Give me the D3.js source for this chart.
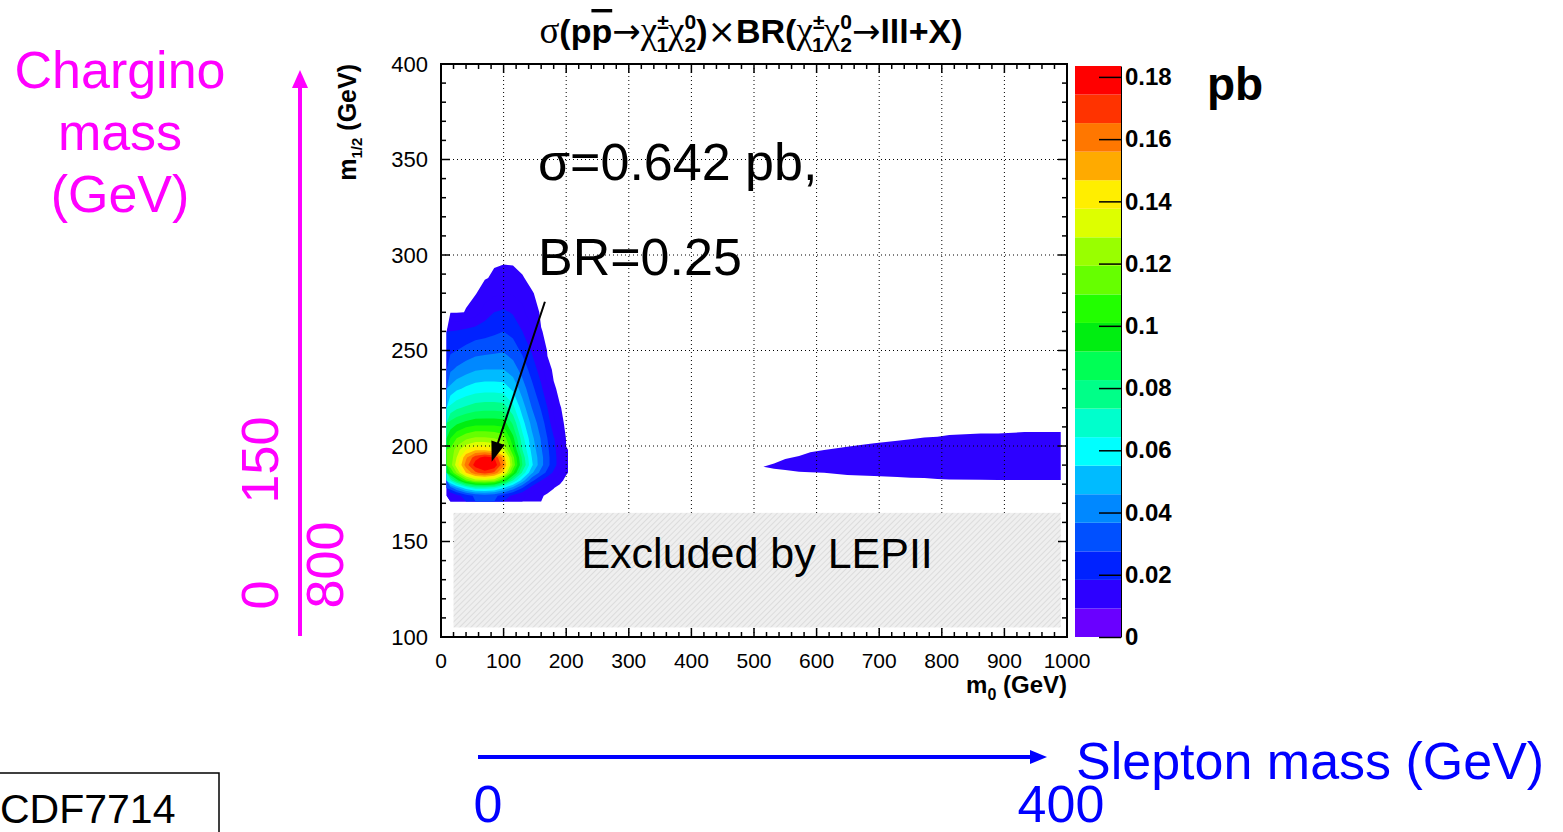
<!DOCTYPE html>
<html>
<head>
<meta charset="utf-8">
<script src="https://cdn.jsdelivr.net/npm/d3@7"></script>
<style>
  body { margin: 0; background: #fff; }
  svg { display: block; font-family: "Liberation Sans", Arial, sans-serif; }
</style>
</head>
<body>
<svg id="chart" width="1563" height="832"></svg>
<script>
// sigma x BR (pb) sampled on a grid: columns are m0, rows are m1/2 (bottom row first)
let gridM0 = [15, 25, 40, 55, 70, 85, 100, 115, 130, 145, 160, 170, 180, 190, 200, 210];
let gridM12 = [174, 178, 182, 186, 190, 194, 198, 204, 212, 220, 230, 240, 250, 260, 270, 280, 288, 296];
let sigmaBR = [
    [0.0092, 0.0147, 0.0229, 0.0294, 0.0321, 0.0303, 0.0229, 0.0165, 0.011, 0.0055, 0.00083, 0, 0, 0, 0, 0],
    [0.0321, 0.044, 0.0596, 0.0688, 0.0688, 0.0661, 0.0551, 0.0413, 0.0275, 0.0147, 0.0073, 0.0017, 0.00055, 0, 0, 0],
    [0.0688, 0.0872, 0.1101, 0.1239, 0.1266, 0.122, 0.1009, 0.0734, 0.0505, 0.0303, 0.0184, 0.0119, 0.0073, 0.001, 0, 0],
    [0.1009, 0.1193, 0.1468, 0.1633, 0.1697, 0.1633, 0.1422, 0.1028, 0.0716, 0.0477, 0.033, 0.0248, 0.0165, 0.0092, 0.0007, 0],
    [0.1147, 0.133, 0.1606, 0.1789, 0.1881, 0.1817, 0.1578, 0.1174, 0.0826, 0.0569, 0.0395, 0.0303, 0.022, 0.0138, 0.0007, 0],
    [0.1129, 0.1285, 0.1541, 0.1707, 0.178, 0.1743, 0.1514, 0.1138, 0.0798, 0.0551, 0.0395, 0.0303, 0.022, 0.0138, 0.0007, 0],
    [0.1119, 0.1239, 0.1376, 0.145, 0.145, 0.1404, 0.1303, 0.1028, 0.0734, 0.0523, 0.0376, 0.0294, 0.0211, 0.0128, 0.0007, 0],
    [0.1009, 0.1101, 0.1174, 0.1211, 0.1211, 0.1193, 0.1156, 0.0945, 0.0679, 0.0486, 0.0358, 0.0275, 0.0193, 0.011, 0, 0],
    [0.0853, 0.0899, 0.0945, 0.0973, 0.0973, 0.0973, 0.0963, 0.0807, 0.0587, 0.0431, 0.0312, 0.0239, 0.0119, 0.0013, 0, 0],
    [0.067, 0.0716, 0.0752, 0.078, 0.0789, 0.0789, 0.078, 0.067, 0.0505, 0.0367, 0.0266, 0.0184, 0.0073, 0.00062, 0, 0],
    [0.0486, 0.0532, 0.0569, 0.0596, 0.0606, 0.0606, 0.0596, 0.0532, 0.0413, 0.0303, 0.0202, 0.011, 0.00083, 0, 0, 0],
    [0.0349, 0.0385, 0.0422, 0.045, 0.0459, 0.0459, 0.0459, 0.0413, 0.033, 0.0239, 0.0138, 0.0017, 0, 0, 0, 0],
    [0.0257, 0.0275, 0.0303, 0.033, 0.0339, 0.0349, 0.0358, 0.0321, 0.0257, 0.0174, 0.0073, 0, 0, 0, 0, 0],
    [0.0184, 0.0193, 0.0211, 0.0229, 0.0239, 0.0257, 0.0275, 0.0248, 0.0184, 0.011, 0.00064, 0, 0, 0, 0, 0],
    [0, 0, 0.00064, 0.005, 0.0138, 0.0184, 0.0202, 0.0174, 0.0119, 0.0025, 0, 0, 0, 0, 0, 0],
    [0, 0, 0, 0, 0.004, 0.0073, 0.0087, 0.0083, 0.0055, 0.00064, 0, 0, 0, 0, 0, 0],
    [0, 0, 0, 0, 0, 0.0014, 0.004, 0.0027, 0.00064, 0, 0, 0, 0, 0, 0, 0],
    [0, 0, 0, 0, 0, 0, 0, 0, 0, 0, 0, 0, 0, 0, 0, 0]
];

// second (slepton) region, lowest contour band only
let slepM0 = [515, 532, 550, 572, 590, 612, 649, 670, 692, 729, 750, 772, 793, 812, 862, 890, 932, 990];
let slepTop = [189.2, 190.9, 193.2, 194.8, 196.7, 197.9, 199.6, 200.5, 201.4, 202.8, 203.5, 204.4, 204.9, 205.7, 206.6, 206.6, 207.3, 207.3];
let slepBottom = [189.2, 188.1, 187.4, 186.5, 186.2, 186.0, 184.8, 184.5, 184.3, 183.8, 183.4, 183.2, 182.7, 182.5, 182.3, 182.2, 182.2, 182.2];

// LEP II excluded box
let lepM0 = [20, 990];
let lepM12 = [105, 165];

let xTicks = [0, 100, 200, 300, 400, 500, 600, 700, 800, 900, 1000];
let yTicks = [100, 150, 200, 250, 300, 350, 400];
let zTicks = [0, 0.02, 0.04, 0.06, 0.08, 0.1, 0.12, 0.14, 0.16, 0.18];
let zMax = 0.1835;
let palette = ['#6a00ff', '#2d00ff', '#0022ff', '#0050ff', '#0088ff', '#00bbff', '#00ffff', '#00ffcc',
    '#00ff88', '#00ff55', '#00ee11', '#22ff00', '#66ff00', '#99ff00', '#ddff00', '#ffee00',
    '#ffaa00', '#ff7700', '#ff3300', '#ff0000'];

// the lowest drawn band uses the second palette colour, as in the original plot
let bandColor = function(i) { return palette[Math.max(i, 1)]; };

let svg = d3.select('#chart');
let frame = {left: 441, top: 64, right: 1067, bottom: 637};

let x = d3.scaleLinear().domain([0, 1000]).range([frame.left, frame.right]);
let y = d3.scaleLinear().domain([100, 400]).range([frame.bottom, frame.top]);

svg.append('rect').attr('width', 1563).attr('height', 832).attr('fill', '#fff');

let defs = svg.append('defs');
let pat = defs.append('pattern')
    .attr('id', 'hatch')
    .attr('patternUnits', 'userSpaceOnUse')
    .attr('width', 4).attr('height', 4)
    .attr('patternTransform', 'rotate(45)');
pat.append('rect').attr('width', 4).attr('height', 4).attr('fill', '#efefef');
pat.append('line').attr('x1', 0).attr('y1', 0).attr('x2', 0).attr('y2', 4)
    .attr('stroke', '#d4d4d4').attr('stroke-width', 1.4);

// ----- filled contours ----- //
let n = gridM0.length, m = gridM12.length;
let values = [].concat(...sigmaBR);
let thresholds = [0.0005].concat(d3.range(1, 20).map(function(k) { return k * zMax / 20; }));
let bands = d3.contours().size([n, m]).thresholds(thresholds)(values);

let gx = d3.scaleLinear()
    .domain([0].concat(gridM0.map(function(d, i) { return i + 0.5; }), [n]))
    .range([9].concat(gridM0, [215]));
let gy = d3.scaleLinear()
    .domain([0].concat(gridM12.map(function(d, i) { return i + 0.5; }), [m]))
    .range([171].concat(gridM12, [300]));

let toPlot = d3.geoTransform({
    point: function(px, py) { this.stream.point(x(gx(px)), y(gy(py))); }
});
let contourPath = d3.geoPath(toPlot);

svg.append('g').selectAll('path')
    .data(bands)
    .enter().append('path')
    .attr('d', contourPath)
    .attr('fill', function(d, i) { return bandColor(i); })
    .attr('fill-rule', 'evenodd');

let slep = slepM0.map(function(d, i) { return {m0: d, top: slepTop[i], bottom: slepBottom[i]}; });
svg.append('path')
    .datum(slep)
    .attr('fill', bandColor(0))
    .attr('d', d3.area()
        .x(function(d) { return x(d.m0); })
        .y0(function(d) { return y(d.bottom); })
        .y1(function(d) { return y(d.top); }));

// ----- grid ----- //
let grid = svg.append('g')
    .attr('stroke', '#000')
    .attr('stroke-width', 1)
    .attr('stroke-dasharray', '1,3');
grid.selectAll('line.vx')
    .data(xTicks.slice(1, -1))
    .enter().append('line')
    .attr('x1', function(d) { return x(d); }).attr('x2', function(d) { return x(d); })
    .attr('y1', frame.top).attr('y2', frame.bottom);
grid.selectAll('line.hy')
    .data(yTicks.slice(1, -1))
    .enter().append('line')
    .attr('y1', function(d) { return y(d); }).attr('y2', function(d) { return y(d); })
    .attr('x1', frame.left).attr('x2', frame.right);

// ----- LEP excluded ----- //
svg.append('rect')
    .attr('x', x(lepM0[0]))
    .attr('y', y(lepM12[1]))
    .attr('width', x(lepM0[1]) - x(lepM0[0]))
    .attr('height', y(lepM12[0]) - y(lepM12[1]))
    .attr('fill', 'url(#hatch)');
svg.append('text')
    .attr('x', x(505))
    .attr('y', 568)
    .attr('text-anchor', 'middle')
    .attr('font-size', 43)
    .text('Excluded by LEPII');

// ----- frame and ticks ----- //
svg.append('rect')
    .attr('x', frame.left).attr('y', frame.top)
    .attr('width', frame.right - frame.left).attr('height', frame.bottom - frame.top)
    .attr('fill', 'none').attr('stroke', '#000').attr('stroke-width', 2);

let ticks = svg.append('g').attr('stroke', '#000').attr('stroke-width', 1.5);
let isMajorX = function(d) { return d % 100 === 0; };
let isMajorY = function(d) { return d % 50 === 0; };
x.ticks(50).forEach(function(d) {
    let len = isMajorX(d) ? 9 : 5;
    ticks.append('line').attr('x1', x(d)).attr('x2', x(d)).attr('y1', frame.bottom).attr('y2', frame.bottom - len);
    ticks.append('line').attr('x1', x(d)).attr('x2', x(d)).attr('y1', frame.top).attr('y2', frame.top + len);
});
y.ticks(30).forEach(function(d) {
    let len = isMajorY(d) ? 9 : 5;
    ticks.append('line').attr('y1', y(d)).attr('y2', y(d)).attr('x1', frame.left).attr('x2', frame.left + len);
    ticks.append('line').attr('y1', y(d)).attr('y2', y(d)).attr('x1', frame.right).attr('x2', frame.right - len);
});

svg.append('g').selectAll('text')
    .data(xTicks)
    .enter().append('text')
    .attr('x', function(d) { return x(d); })
    .attr('y', 668)
    .attr('text-anchor', 'middle')
    .attr('font-size', 21)
    .text(function(d) { return d; });

svg.append('g').selectAll('text')
    .data(yTicks)
    .enter().append('text')
    .attr('x', 428)
    .attr('y', function(d) { return y(d); })
    .attr('dy', '0.35em')
    .attr('text-anchor', 'end')
    .attr('font-size', 22)
    .text(function(d) { return d; });

// axis titles
let xTitle = svg.append('text')
    .attr('x', frame.right).attr('y', 693)
    .attr('text-anchor', 'end')
    .attr('font-size', 24).attr('font-weight', 'bold');
xTitle.append('tspan').text('m');
xTitle.append('tspan').attr('font-size', 16).attr('dy', 7).text('0');
xTitle.append('tspan').attr('dy', -7).text(' (GeV)');

let yTitle = svg.append('text')
    .attr('transform', 'translate(356,' + frame.top + ') rotate(-90)')
    .attr('text-anchor', 'end')
    .attr('font-size', 25).attr('font-weight', 'bold');
yTitle.append('tspan').text('m');
yTitle.append('tspan').attr('font-size', 15).attr('dy', 6).text('1/2');
yTitle.append('tspan').attr('dy', -6).text(' (GeV)');

// ----- colour bar ----- //
let z = d3.scaleLinear().domain([0, zMax]).range([637, 66]);
svg.append('g').selectAll('rect')
    .data(palette)
    .enter().append('rect')
    .attr('x', 1075)
    .attr('width', 46)
    .attr('y', function(d, i) { return z((i + 1) * zMax / 20); })
    .attr('height', function(d, i) { return z(i * zMax / 20) - z((i + 1) * zMax / 20); })
    .attr('fill', function(d) { return d; });

let zAxis = svg.append('g')
    .attr('transform', 'translate(1121,0)')
    .call(d3.axisRight(z).tickValues(zTicks).tickSize(-22).tickSizeOuter(0).tickPadding(4)
        .tickFormat(d3.format('~g')));
zAxis.selectAll('text').attr('font-size', 24).attr('font-weight', 'bold')
    .attr('font-family', '"Liberation Sans", Arial, sans-serif').attr('fill', '#000');
zAxis.selectAll('line').attr('stroke', '#000').attr('stroke-width', 1.5);
zAxis.select('.domain').attr('stroke', '#000').attr('stroke-width', 1);

svg.append('text').attr('x', 1207).attr('y', 100)
    .attr('font-size', 46).attr('font-weight', 'bold').text('pb');

// ----- title ----- //
let title = svg.append('text')
    .attr('x', 751).attr('y', 43)
    .attr('text-anchor', 'middle')
    .attr('font-size', 34).attr('font-weight', 'bold');
let greek = function(t) {
    return title.append('tspan').attr('font-family', '"Liberation Serif", serif')
        .attr('font-size', 37).attr('font-weight', 'normal').text(t);
};
let plain = function(t) {
    return title.append('tspan').attr('font-family', '"DejaVu Sans", sans-serif')
        .attr('font-size', 34).attr('font-weight', 'normal').text(t);
};
let pair = function(sup, sub) {
    greek('χ');
    title.append('tspan').attr('font-size', 21).attr('dy', -14).text(sup);
    title.append('tspan').attr('font-size', 21).attr('dx', -12.3).attr('dy', 23).text(sub);
    greek('χ').attr('dy', -9);
    title.append('tspan').attr('font-size', 21).attr('dy', -14).text('0');
    title.append('tspan').attr('font-size', 21).attr('dx', -11.7).attr('dy', 23).text('2');
};
greek('σ');
title.append('tspan').text('(p');
title.append('tspan').style('text-decoration', 'overline').text('p');
plain('→');
pair('±', '1');
title.append('tspan').attr('dy', -9).text(')');
plain('×');
title.append('tspan').text('BR(');
pair('±', '1');
plain('→').attr('dy', -9);
title.append('tspan').text('lll+X)');

// ----- annotations ----- //
svg.append('text').attr('x', x(155)).attr('y', 180).attr('font-size', 52).text('σ=0.642 pb,');
svg.append('text').attr('x', x(155)).attr('y', 275).attr('font-size', 52).text('BR=0.25');

function drawArrow(g, x1, y1, x2, y2, color, width, headLen, headW) {
    let dx = x2 - x1, dy = y2 - y1;
    let len = Math.sqrt(dx * dx + dy * dy);
    let ux = dx / len, uy = dy / len;
    let bx = x2 - ux * headLen, by = y2 - uy * headLen;
    g.append('line')
        .attr('x1', x1).attr('y1', y1).attr('x2', bx + ux * 2).attr('y2', by + uy * 2)
        .attr('stroke', color).attr('stroke-width', width);
    g.append('path')
        .attr('d', 'M' + x2 + ',' + y2 + 'L' + (bx - uy * headW) + ',' + (by + ux * headW) +
            'L' + (bx + uy * headW) + ',' + (by - ux * headW) + 'Z')
        .attr('fill', color);
}

let notes = svg.append('g');
drawArrow(notes, x(166), y(275.5), x(81), y(191.8), '#000', 2, 20, 7);

// left magenta axis sketch
drawArrow(notes, 300, 636, 300, 70, '#ff00ff', 4, 18, 8);
let magenta = svg.append('g').attr('fill', '#ff00ff').attr('font-size', 52).attr('text-anchor', 'middle');
magenta.append('text').attr('x', 120).attr('y', 88).text('Chargino');
magenta.append('text').attr('x', 120).attr('y', 150).text('mass');
magenta.append('text').attr('x', 120).attr('y', 212).text('(GeV)');
magenta.append('text').attr('transform', 'translate(278,595) rotate(-90)').text('0');
magenta.append('text').attr('transform', 'translate(278,460) rotate(-90)').text('150');
magenta.append('text').attr('transform', 'translate(343,565) rotate(-90)').text('800');

// bottom blue axis sketch
drawArrow(notes, 478, 757, 1047, 757, '#0000ff', 4, 17, 7);
let blue = svg.append('g').attr('fill', '#0000ff').attr('font-size', 52);
blue.append('text').attr('x', 1076).attr('y', 779).text('Slepton mass (GeV)');
blue.append('text').attr('x', 488).attr('y', 822).attr('text-anchor', 'middle').text('0');
blue.append('text').attr('x', 1061).attr('y', 822).attr('text-anchor', 'middle').text('400');

// CDF note box
svg.append('rect').attr('x', -2).attr('y', 773).attr('width', 221).attr('height', 80)
    .attr('fill', 'none').attr('stroke', '#000').attr('stroke-width', 1.5);
svg.append('text').attr('x', 0).attr('y', 823).attr('font-size', 41).text('CDF7714');
</script>
</body>
</html>
